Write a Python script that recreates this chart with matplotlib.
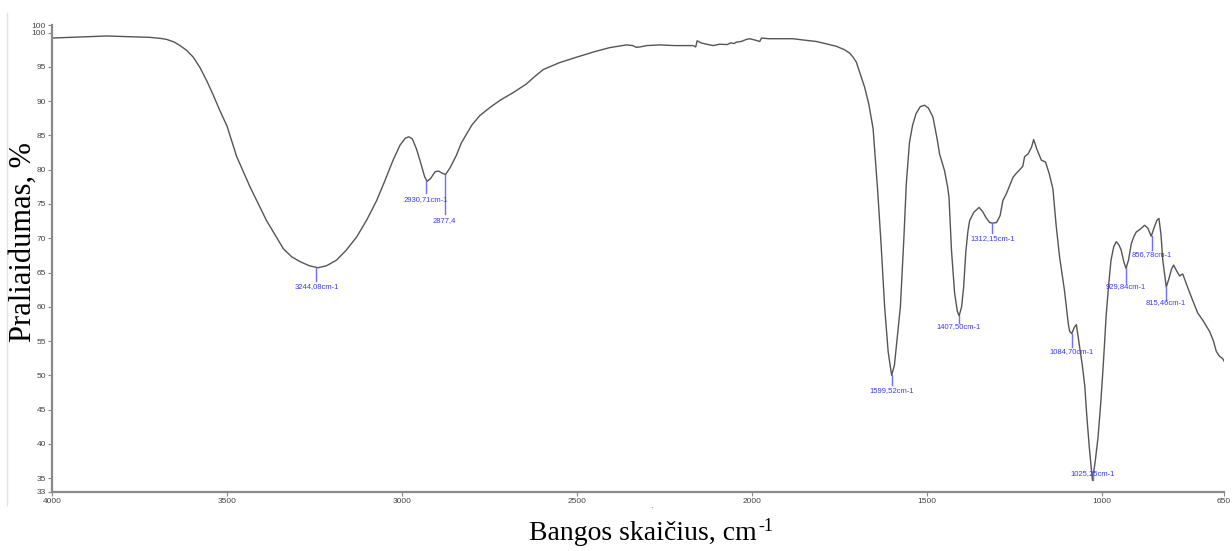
import matplotlib
matplotlib.use("Agg")
import matplotlib.pyplot as plt
from matplotlib.lines import Line2D

# IR spektras: bangos skaičius (cm-1) ir pralaidumas (%)
banga = [4000, 3950, 3900, 3844, 3780, 3720, 3690, 3672, 3650, 3634, 3615, 3596,
         3577, 3558, 3540, 3520, 3500, 3472, 3434, 3410, 3387, 3360, 3339, 3315,
         3291, 3265, 3240, 3215, 3187, 3160, 3129, 3100, 3072, 3050, 3025, 3005,
         2990, 2980, 2970, 2958, 2945, 2935, 2928, 2918, 2905, 2895, 2885, 2875,
         2862, 2844, 2830, 2815, 2800, 2777, 2750, 2720, 2680, 2644, 2620, 2596,
         2550, 2501, 2450, 2406, 2358, 2340, 2330, 2320, 2300, 2263, 2220, 2168,
         2160, 2156, 2145, 2129, 2110, 2092, 2070, 2060, 2050, 2044, 2030, 2015,
         2006, 1990, 1977, 1972, 1950, 1900, 1882, 1850, 1815, 1790, 1758, 1735,
         1720, 1710, 1701, 1690, 1677, 1665, 1653, 1640, 1630, 1620, 1610, 1600,
         1592, 1580, 1575, 1565, 1558, 1549, 1540, 1530, 1518, 1506, 1495, 1482,
         1470, 1463, 1449, 1440, 1436, 1429, 1420, 1412, 1407, 1400, 1394, 1388,
         1382, 1377, 1365, 1350, 1340, 1330, 1320, 1312, 1300, 1290, 1282, 1272,
         1253, 1245, 1225, 1220, 1210, 1200, 1194, 1185, 1172, 1160, 1150, 1139,
         1130, 1120, 1106, 1095, 1091, 1085, 1078, 1072, 1065, 1055, 1048, 1042,
         1035, 1026, 1018, 1010, 1003, 997, 991, 987, 980, 973, 965, 958, 950,
         944, 936, 930, 923, 915, 908, 901, 890, 877, 868, 858, 850, 842, 836,
         830, 825, 815, 808, 800, 794, 785, 777, 768, 755, 740, 725, 710, 691,
         680, 672, 663, 653, 650]
pralaidumas = [99.2, 99.3, 99.4, 99.5, 99.4, 99.3, 99.15, 99.0, 98.6, 98.1, 97.4, 96.4,
               94.9, 93.0, 91.0, 88.6, 86.4, 81.9, 77.5, 75.0, 72.6, 70.3, 68.5, 67.3,
               66.6, 66.0, 65.7, 66.0, 66.8, 68.2, 70.2, 72.7, 75.5, 78.2, 81.4, 83.6,
               84.6, 84.8, 84.5, 83.0, 80.8, 79.0, 78.3, 78.7, 79.7, 79.8, 79.5, 79.3,
               80.3, 82.1, 83.9, 85.2, 86.5, 87.9, 89.0, 90.1, 91.3, 92.5, 93.6, 94.6,
               95.6, 96.4, 97.2, 97.8, 98.2, 98.1, 97.85, 97.9, 98.1, 98.2, 98.1, 98.1,
               97.9, 98.8, 98.5, 98.3, 98.1, 98.3, 98.25, 98.5, 98.4, 98.6, 98.7, 99.0,
               99.1, 98.9, 98.7, 99.2, 99.1, 99.1, 99.1, 98.9, 98.7, 98.4, 98.0, 97.5,
               97.0, 96.4, 95.7, 94.0, 92.0, 89.5, 86.0, 77.0, 69.0, 60.0, 53.5, 50.0,
               51.5, 57.5, 60.0, 70.0, 78.0, 84.0, 86.5, 88.2, 89.2, 89.4, 89.0, 87.7,
               84.5, 82.3, 79.9, 77.5, 76.0, 68.3, 62.0, 59.3, 58.7, 60.0, 63.0, 68.0,
               71.0, 72.6, 73.8, 74.5, 73.9, 73.0, 72.3, 72.2, 72.3, 73.3, 75.5, 76.5,
               78.9, 79.4, 80.5, 81.9, 82.3, 83.3, 84.4, 83.0, 81.4, 81.1, 79.5, 77.2,
               72.0, 67.3, 62.4, 57.5, 56.4, 56.1, 57.0, 57.4, 55.0, 51.5, 48.5, 44.0,
               39.5, 34.7, 37.5, 41.0, 45.5, 50.0, 55.0, 58.6, 63.0, 66.8, 68.8, 69.5, 69.0,
               68.3, 66.5, 65.6, 66.8, 69.2, 70.2, 70.9, 71.3, 71.9, 71.5, 70.3, 71.5, 72.6,
               72.9, 70.5, 66.8, 62.9, 64.0, 65.5, 66.1, 65.2, 64.5, 64.8, 63.0, 61.0,
               59.1, 58.0, 56.4, 55.0, 53.5, 52.8, 52.4, 52.1]

# pažymėtos smailės: padėtis, smailės T, linijos galas, užrašo T, užrašas
smailes_x = [3244.08, 2930.71, 2877.4, 1599.52, 1407.50, 1312.15, 1084.70, 1025.25, 929.84, 856.78, 815.46]
smailes_t = [65.7, 78.3, 79.3, 50.0, 58.7, 72.2, 56.1, 34.7, 65.6, 70.3, 62.9]
linijos_galas = [63.8, 76.6, 73.5, 48.6, 57.6, 70.7, 54.1, 35.8, 63.5, 68.3, 61.0]
uzrasu_t = [62.9, 75.7, 72.6, 47.8, 57.1, 69.9, 53.5, 35.7, 62.9, 67.6, 60.6]
uzrasai = ["3244,08cm-1", "2930,71cm-1", "2877,4", "1599,52cm-1", "1407,50cm-1",
           "1312,15cm-1", "1084,70cm-1", "1025,25cm-1", "929,84cm-1", "856,78cm-1",
           "815,46cm-1"]

y_ticks = [33, 35, 40, 45, 50, 55, 60, 65, 70, 75, 80, 85, 90, 95, 100, 101.1]
y_labels = ["33", "35", "40", "45", "50", "55", "60", "65", "70", "75", "80", "85",
            "90", "95", "100", "100"]
x_ticks = [4000, 3500, 3000, 2500, 2000, 1500, 1000, 650]

fig = plt.figure(figsize=(12.32, 5.51), dpi=100)
ax = fig.add_axes([0.0422, 0.1071, 0.9513, 0.8475])

ax.plot(banga, pralaidumas, color="#555555", linewidth=1.0)

for x, t0, t1, ty, txt in zip(smailes_x, smailes_t, linijos_galas, uzrasu_t, uzrasai):
    ax.plot([x, x], [t0, t1], color="#6f6fff", linewidth=1.0)
    ax.text(x, ty, txt, color="#3a3aff", fontsize=5.5, family="Liberation Sans",
            ha="center", va="center")

ax.set_xlim(4000, 650)
ax.set_ylim(33, 101.1)
ax.set_xticks(x_ticks)
ax.set_xticklabels([str(v) for v in x_ticks])
ax.set_yticks(y_ticks)
ax.set_yticklabels(y_labels)

for side in ["top", "right"]:
    ax.spines[side].set_visible(False)
for side in ["left", "bottom"]:
    ax.spines[side].set_color("#8a8a8a")
    ax.spines[side].set_linewidth(1.6)

ax.tick_params(axis="both", direction="out", length=3, width=0.8, color="#8a8a8a",
               labelsize=6, labelcolor="#444444", pad=1.5)
for lbl in ax.get_xticklabels() + ax.get_yticklabels():
    lbl.set_family("Liberation Sans")

fig.text(0.019, 0.56, "Praliaidumas, %", rotation=90, ha="center", va="center",
         family="Liberation Serif", fontsize=22)

# x ašies pavadinimas su paprastu brūkšneliu laipsnio rodiklyje
xlab = fig.text(0.4294, 0.020, "Bangos skaičius, cm", ha="left", va="baseline",
                family="Liberation Serif", fontsize=20)
fig.canvas.draw()
bb = xlab.get_window_extent(fig.canvas.get_renderer())
fig.text(bb.x1 / fig.bbox.width + 0.001, 0.037, "-1", ha="left", va="baseline",
         family="Liberation Serif", fontsize=13)

# blanki kairioji rėmelio linija ir taškelis po ašimi
fig.add_artist(Line2D([0.0057, 0.0057], [0.083, 0.976], color="#e4e4e4", linewidth=1.0))
fig.text(0.529, 0.083, ".", fontsize=6, color="#555555", ha="center", va="center")

fig.savefig("out.png", dpi=100)
